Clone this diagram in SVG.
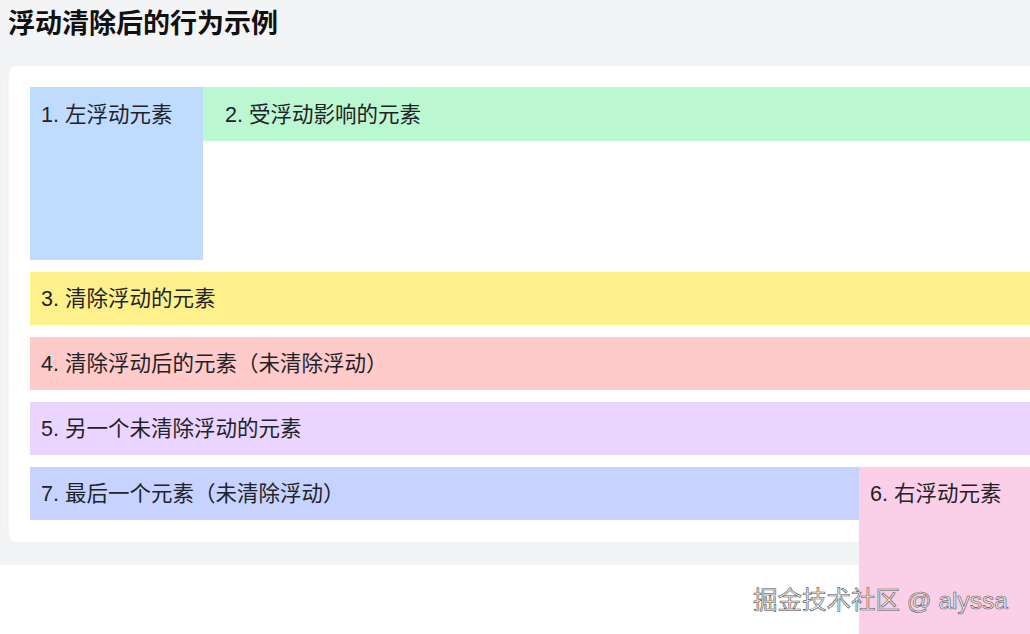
<svg xmlns="http://www.w3.org/2000/svg" width="1030" height="634" viewBox="0 0 1030 634">
<style>
.t{font-family:"Liberation Sans","Noto Sans CJK SC",sans-serif;font-size:21.5px;fill:#1f2328}
.title{font-family:"Liberation Sans","Noto Sans CJK SC",sans-serif;font-size:27px;font-weight:bold;fill:#111}
.wm{font-family:"Liberation Sans","Noto Sans CJK SC",sans-serif;font-size:24.5px;fill:#ececec;stroke:#555;stroke-width:0.6}
</style>
<rect x="0" y="0" width="1030" height="565" fill="#f3f4f6"/>
<rect x="0" y="565" width="1030" height="69" fill="#ffffff"/>
<text class="title" x="8" y="33">浮动清除后的行为示例</text>
<g id="card"><rect x="8" y="65" width="1040" height="478" rx="9" fill="#ffffff" stroke="#eceef1" stroke-width="1"/></g>
<g id="n1"><rect x="30" y="87" width="173" height="173" fill="#bfdbfe"/><text class="t" x="41" y="122">1. 左浮动元素</text></g>
<g id="n2"><rect x="203" y="87" width="827" height="54" fill="#bbf7d0"/><text class="t" x="225" y="122">2. 受浮动影响的元素</text></g>
<g id="n3"><rect x="30" y="272" width="1000" height="53" fill="#fef08a"/><text class="t" x="41" y="306">3. 清除浮动的元素</text></g>
<g id="n4"><rect x="30" y="337" width="1000" height="53" fill="#fecaca"/><text class="t" x="41" y="371">4. 清除浮动后的元素（未清除浮动）</text></g>
<g id="n5"><rect x="30" y="402" width="1000" height="53" fill="#e9d5ff"/><text class="t" x="41" y="436">5. 另一个未清除浮动的元素</text></g>
<g id="n7"><rect x="30" y="467" width="829" height="53" fill="#c7d2fe"/><text class="t" x="41" y="501">7. 最后一个元素（未清除浮动）</text></g>
<g id="n6"><rect x="859" y="467" width="171" height="167" fill="#fbcfe8"/><text class="t" x="870" y="501">6. 右浮动元素</text></g>
<g id="connectors"/>
<text class="wm" x="753" y="609">掘金技术社区 @ alyssa</text>
</svg>
